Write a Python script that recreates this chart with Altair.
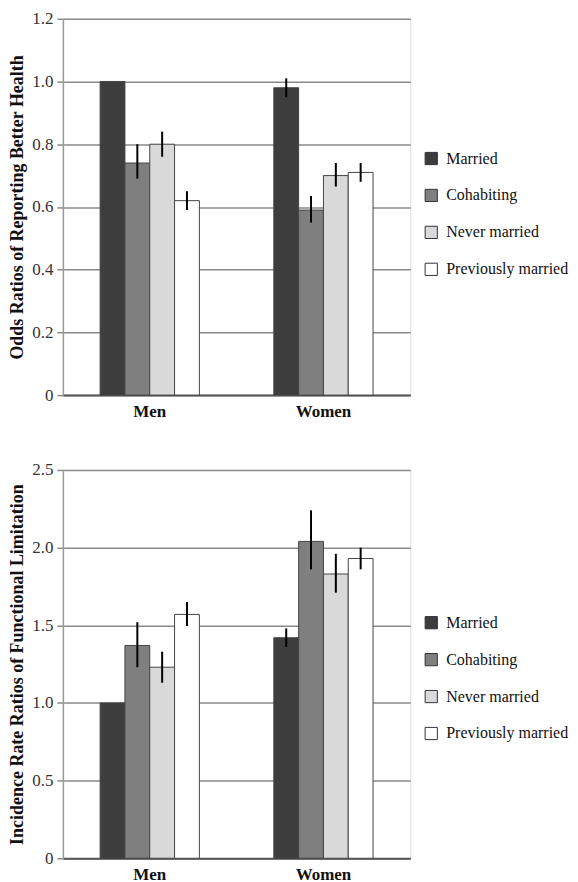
import altair as alt
import pandas as pd

groups = ["Men", "Women"]
statuses = ["Married", "Cohabiting", "Never married", "Previously married"]
colors = ["#3d3d3d", "#7f7f7f", "#d9d9d9", "#ffffff"]

# Panel 1: odds ratios of reporting better health
health_or = [1.00, 0.74, 0.80, 0.62, 0.98, 0.59, 0.70, 0.71]
health_lo = [None, 0.69, 0.76, 0.59, 0.95, 0.55, 0.665, 0.68]
health_hi = [None, 0.80, 0.84, 0.65, 1.01, 0.635, 0.74, 0.74]
health_ticks = [0, 0.2, 0.4, 0.6, 0.8, 1.0, 1.2]

# Panel 2: incidence rate ratios of functional limitation
limit_irr = [1.00, 1.37, 1.23, 1.57, 1.42, 2.04, 1.83, 1.93]
limit_lo = [None, 1.23, 1.13, 1.495, 1.36, 1.86, 1.71, 1.86]
limit_hi = [None, 1.52, 1.33, 1.65, 1.48, 2.24, 1.96, 2.00]
limit_ticks = [0, 0.5, 1.0, 1.5, 2.0, 2.5]

SERIF = "Liberation Serif"


def make_df(vals, lo, hi):
    rows = []
    for i, v in enumerate(vals):
        rows.append({
            "group": groups[i // 4],
            "status": statuses[i % 4],
            "value": v,
            "lo": lo[i],
            "hi": hi[i],
        })
    return pd.DataFrame(rows)


def panel(vals, lo, hi, ticks, title, h, leg_y):
    df = make_df(vals, lo, hi)
    df_err = df.dropna(subset=["lo", "hi"])
    x = alt.X("group:N", sort=groups,
              scale=alt.Scale(paddingInner=0.4286, paddingOuter=0.2143),
              axis=alt.Axis(title=None, labelAngle=0, labelFont=SERIF,
                            labelFontWeight="bold", labelFontSize=17,
                            labelColor="#111", ticks=False, domainColor="#555",
                            domainWidth=2, labelPadding=8, grid=False))
    xo = alt.XOffset("status:N", sort=statuses,
                     scale=alt.Scale(paddingInner=0, paddingOuter=0))
    y = alt.Y("value:Q",
              scale=alt.Scale(domain=[0, ticks[-1]], nice=False, zero=True),
              axis=alt.Axis(title=title, values=ticks,
                            labelExpr="datum.value == 0 ? '0' : format(datum.value, '.1f')",
                            labelFont=SERIF, labelFontSize=17, labelColor="#333",
                            labelPadding=4, tickSize=6, tickColor="#8a8a8a",
                            tickWidth=1.5, gridColor="#8a8a8a", gridWidth=1.5,
                            domainColor="#9a9a9a", domainWidth=1.5,
                            titleFont=SERIF, titleFontSize=18, titleFontWeight="bold",
                            titleColor="#111", titlePadding=5))
    bars = alt.Chart(df).mark_bar(stroke="#444", strokeWidth=1).encode(
        x=x, xOffset=xo, y=y,
        color=alt.Color("status:N", sort=statuses,
                        scale=alt.Scale(domain=statuses, range=colors),
                        legend=alt.Legend(title=None, orient="none", legendX=361,
                                          legendY=leg_y, symbolType="square",
                                          symbolSize=150, symbolStrokeColor="#333",
                                          symbolStrokeWidth=1, labelFont=SERIF,
                                          labelFontSize=16, labelColor="#111",
                                          rowPadding=19, labelOffset=7, padding=0)),
    )
    err = alt.Chart(df_err).mark_rule(color="black", strokeWidth=2).encode(
        x=x, xOffset=xo, y="lo:Q", y2="hi:Q")
    return alt.layer(bars, err).properties(width=348, height=h)


top = panel(health_or, health_lo, health_hi, health_ticks,
            "Odds Ratios of Reporting Better Health", 377, 132)
bottom = panel(limit_irr, limit_lo, limit_hi, limit_ticks,
               "Incidence Rate Ratios of Functional Limitation", 389, 145)

chart = alt.vconcat(top, bottom, spacing=40).resolve_legend(
    color="independent").properties(
    padding={"left": 0, "top": 0, "right": 0, "bottom": 0}
).configure_view(fill="#e4e4e4", stroke="transparent").configure(background="white")

chart.save("out.html", embed_options={"renderer": "svg", "actions": False})
